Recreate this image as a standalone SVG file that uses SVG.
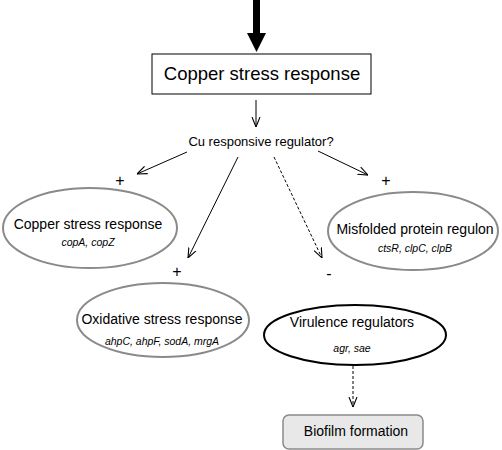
<svg xmlns="http://www.w3.org/2000/svg" width="502" height="450" viewBox="0 0 502 450">
<style>
text{font-family:"Liberation Sans",Arial,sans-serif;fill:#000}
.t{font-size:14px;text-anchor:middle}
.g{font-size:10.5px;font-style:italic;text-anchor:middle}
.s{font-size:13px;text-anchor:middle}
.p{font-size:16px;text-anchor:middle}
.ln{stroke:#000;stroke-width:1;fill:none}
.gray{fill:#fff;stroke:#8a8a8a;stroke-width:2}
</style>
<defs>
<marker id="v" viewBox="0 0 10 10" refX="10" refY="5" markerWidth="10" markerHeight="10" markerUnits="userSpaceOnUse" orient="auto">
<path d="M0,1 L10,5 L0,9" fill="none" stroke="#000" stroke-width="1.1"/>
</marker>
</defs>
<rect width="502" height="450" fill="#fff"/>
<g id="connectors">
<rect x="253" y="0" width="7" height="34" fill="#000"/>
<polygon points="247,33 266,33 256.5,52" fill="#000"/>
<line class="ln" x1="256" y1="100" x2="256" y2="127" marker-end="url(#v)"/>
<line class="ln" x1="187" y1="152" x2="137" y2="174" marker-end="url(#v)"/>
<line class="ln" x1="238" y1="157" x2="188" y2="258" marker-end="url(#v)"/>
<line class="ln" x1="274" y1="157" x2="322" y2="258" stroke-dasharray="3,2" marker-end="url(#v)"/>
<line class="ln" x1="318" y1="151" x2="368" y2="175" marker-end="url(#v)"/>
<line class="ln" x1="353" y1="366" x2="353" y2="407" stroke-dasharray="3,2" marker-end="url(#v)"/>
<text class="p" x="120" y="186">+</text>
<text class="p" x="177" y="277">+</text>
<text class="p" x="386" y="186">+</text>
<text class="p" x="329" y="279">-</text>
</g>
<g id="copper-box">
<rect x="152" y="54" width="219" height="40" fill="#fff" stroke="#000" stroke-width="1"/>
<text x="262" y="80" style="font-size:18.5px;text-anchor:middle">Copper stress response</text>
</g>
<g id="regulator">
<text x="261" y="146" class="s">Cu responsive regulator?</text>
</g>
<g id="copper-ellipse">
<ellipse cx="90" cy="228" rx="87" ry="40" class="gray"/>
<text x="88" y="229" class="t">Copper stress response</text>
<text x="88" y="246" class="g">copA, copZ</text>
</g>
<g id="misfolded">
<ellipse cx="413" cy="231" rx="85" ry="39" class="gray"/>
<text x="415" y="234" class="t">Misfolded protein regulon</text>
<text x="415" y="252" class="g">ctsR, clpC, clpB</text>
</g>
<g id="oxidative">
<ellipse cx="163" cy="320" rx="86" ry="37" class="gray"/>
<text x="162" y="324" class="t">Oxidative stress response</text>
<text x="162" y="345" class="g">ahpC, ahpF, sodA, mrgA</text>
</g>
<g id="virulence">
<ellipse cx="355" cy="335" rx="91" ry="30" fill="#fff" stroke="#000" stroke-width="2"/>
<text x="352" y="327" class="t">Virulence regulators</text>
<text x="352" y="352" class="g">agr, sae</text>
</g>
<g id="biofilm">
<rect x="283" y="415" width="140" height="34" rx="6" fill="#e8e8e8" stroke="#8a8a8a" stroke-width="1.5"/>
<text x="356" y="436" class="t">Biofilm formation</text>
</g>
</svg>
